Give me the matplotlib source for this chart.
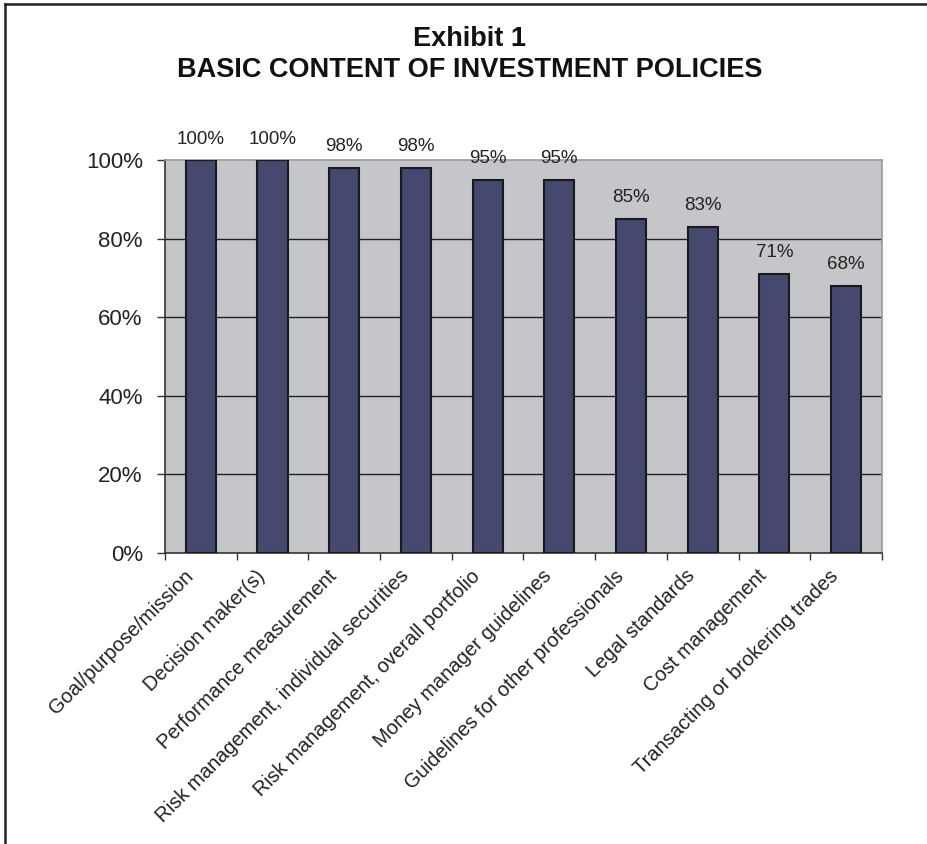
import numpy as np
import matplotlib
matplotlib.use("Agg")
from matplotlib import pyplot as plt
from matplotlib.lines import Line2D

categories = [
    "Goal/purpose/mission",
    "Decision maker(s)",
    "Performance measurement",
    "Risk management, individual securities",
    "Risk management, overall portfolio",
    "Money manager guidelines",
    "Guidelines for other professionals",
    "Legal standards",
    "Cost management",
    "Transacting or brokering trades",
]
values = [100, 100, 98, 98, 95, 95, 85, 83, 71, 68]
yticks = [0, 20, 40, 60, 80, 100]

plt.rcParams['font.family'] = ['Liberation Sans', 'DejaVu Sans']

fig = plt.figure(figsize=(9.28, 8.44), dpi=100)
ax = fig.add_axes([0.1778, 0.3448, 0.7726, 0.4656])
ax.set_facecolor('#c4c6c9')

x = np.arange(len(categories))
ax.bar(x, values, width=0.42, color='#454970', edgecolor='#1a1a1a',
       linewidth=1.5, zorder=3)

for yv in yticks[1:-1]:
    ax.axhline(yv, color='#222222', linewidth=1.0, zorder=1)

for xi, v in zip(x, values):
    ax.annotate(f"{v}%", (xi, v), xytext=(0, 9), textcoords='offset points',
                ha='center', va='bottom', fontsize=13.5, color='#222222')

ax.set_xlim(-0.5, len(categories) - 0.5)
ax.set_ylim(0, 100)
ax.set_yticks(yticks)
ax.set_yticklabels([f"{v}%" for v in yticks], fontsize=16, color='#222222')
ax.set_xticks(np.arange(len(categories) + 1) - 0.5)
ax.set_xticklabels([])
ax.tick_params(axis='y', length=6, width=1, pad=10, color='#333333')
ax.tick_params(axis='x', length=5, width=1, color='#333333', direction='out')

for xi, lab in zip(x, categories):
    ax.annotate(lab, (xi, 0), xytext=(-7.5, -14.5), textcoords='offset points',
                rotation=45, ha='right', va='center', rotation_mode='anchor',
                fontsize=14.5, color='#222222', annotation_clip=False)

for side in ['top', 'right']:
    ax.spines[side].set_color('#9a9a9a')
    ax.spines[side].set_linewidth(1.2)
for side in ['left', 'bottom']:
    ax.spines[side].set_color('#333333')
    ax.spines[side].set_linewidth(1.2)

fig.text(0.506, 0.9455, "Exhibit 1", ha='center', va='baseline', fontsize=19.5,
         fontweight='bold', color='#111111')
fig.text(0.506, 0.9088, "BASIC CONTENT OF INVESTMENT POLICIES", ha='center',
         va='baseline', fontsize=19.5, fontweight='bold', color='#111111')

# frame on left and top like the original scan
fig.add_artist(Line2D([0.0058, 0.0058], [0, 0.9953], transform=fig.transFigure,
                      color='#222222', linewidth=1.8))
fig.add_artist(Line2D([0.0058, 1.0], [0.9953, 0.9953], transform=fig.transFigure,
                      color='#222222', linewidth=1.8))

fig.savefig("out.png", dpi=100)
